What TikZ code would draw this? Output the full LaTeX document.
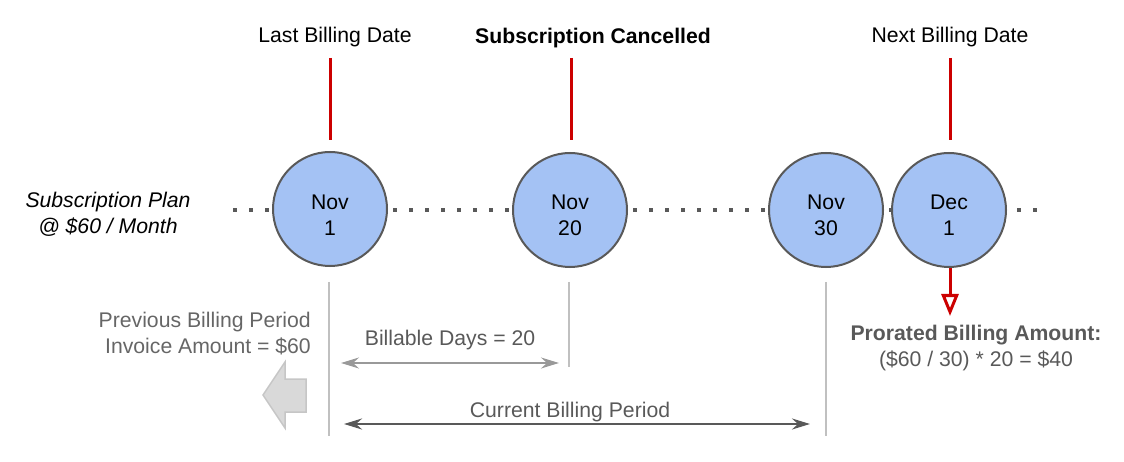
\documentclass[tikz,border=0pt]{standalone}
\usepackage{fontspec}
\setmainfont{Liberation Sans}
\usetikzlibrary{arrows.meta}
\definecolor{circfill}{HTML}{A4C2F4}
\definecolor{circdraw}{HTML}{595959}
\definecolor{redline}{HTML}{CC0000}
\definecolor{dotgray}{HTML}{595959}
\definecolor{vgray}{HTML}{C0C0C0}
\definecolor{txtgray}{HTML}{595959}
\definecolor{prevgray}{HTML}{666666}
\definecolor{lightarrow}{HTML}{999999}
\definecolor{darkarrow}{HTML}{595959}
\definecolor{bigfill}{HTML}{D9D9D9}
\definecolor{bigdraw}{HTML}{C6C6C6}
\begin{document}
\begin{tikzpicture}[x=1pt,y=-1pt,
  every node/.style={font=\fontsize{21.2}{26}\selectfont, inner sep=0pt, align=center},
  datecirc/.style={circle, draw=circdraw, line width=2pt, fill=circfill, minimum size=114pt},
  redstem/.style={draw=redline, line width=3pt},
  vguide/.style={draw=vgray, line width=2pt},
  toplabel/.style={text=black},
  graylabel/.style={text=txtgray}]
\useasboundingbox (0,0) rectangle (1124,462);

% dotted timeline
\coordinate (dotL) at (233,210);
\coordinate (dotR) at (1040,210);
\draw[dotgray, line width=4pt, dash pattern=on 4pt off 12pt] (dotL) -- (dotR);

% date circles
\node[datecirc] (n1) at (330,209) {};
\node[datecirc] (n20) at (570,210) {};
\node[datecirc] (n30) at (826,210) {};
\node[datecirc] (d1) at (949,210) {};
\node at (330,215) {Nov\\1};
\node at (570,215) {Nov\\20};
\node at (826,215) {Nov\\30};
\node at (949,215) {Dec\\1};

% top labels
\node[toplabel] (lbd) at (335,37) {Last Billing Date};
\node[toplabel, font=\fontsize{21.2}{26}\selectfont\bfseries] (sc) at (593,38) {Subscription Cancelled};
\node[toplabel] (nbd) at (950,37) {Next Billing Date};

% red stems
\coordinate (r1t) at (330,58);  \coordinate (r1b) at (330,140);
\coordinate (r2t) at (571,58);  \coordinate (r2b) at (571,140);
\coordinate (r3t) at (950,58);  \coordinate (r3b) at (950,140);
\draw[redstem] (r1t) -- (r1b);
\draw[redstem] (r2t) -- (r2b);
\draw[redstem] (r3t) -- (r3b);

% plan label
\node[font=\fontsize{21.2}{26}\selectfont\itshape] (plan) at (108,214) {Subscription Plan\\@ \$60 / Month};

% vertical guides
\coordinate (g1t) at (329,282); \coordinate (g1b) at (329,436);
\coordinate (g2t) at (569,282); \coordinate (g2b) at (569,367);
\coordinate (g3t) at (826,282); \coordinate (g3b) at (826,436);
\draw[vguide] (g1t) -- (g1b);
\draw[vguide] (g2t) -- (g2b);
\draw[vguide] (g3t) -- (g3b);

% billable days
\coordinate (bdL) at (341,363); \coordinate (bdR) at (559,363);
\draw[lightarrow, line width=2pt, {Stealth[length=18pt,width=11pt,inset=6pt]}-{Stealth[length=18pt,width=11pt,inset=6pt]}] (bdL) -- (bdR);
\node[graylabel] (bdlab) at (450,340) {Billable Days = 20};

% current billing period
\coordinate (cbL) at (344,424); \coordinate (cbR) at (810,424);
\draw[darkarrow, line width=2.5pt, {Stealth[length=18pt,width=11pt,inset=6pt]}-{Stealth[length=18pt,width=11pt,inset=6pt]}] (cbL) -- (cbR);
\node[graylabel] (cblab) at (570,412) {Current Billing Period};

% previous billing period
\node[text=prevgray, anchor=east, align=right] (prev) at (311,334) {Previous Billing Period\\Invoice Amount = \$60};

% big gray arrow
\draw[fill=bigfill, draw=bigdraw, line width=1.5pt, line join=miter]
  (263,395) -- (285,362) -- (285,379) -- (306,379) -- (306,412) -- (285,412) -- (285,428) -- cycle;

% prorated arrow
\coordinate (pa) at (950,268);
\coordinate (pb) at (950,316);
\draw[redline, line width=3pt, -{Triangle[open, fill=white, length=22pt, width=17pt]}] (pa) -- (pb);
\node[graylabel, font=\fontsize{21.2}{26}\selectfont\bfseries] (pro1) at (976,335) {Prorated Billing Amount:};
\node[graylabel] (pro2) at (976,361) {(\$60 / 30) * 20 = \$40};
\end{tikzpicture}
\end{document}
